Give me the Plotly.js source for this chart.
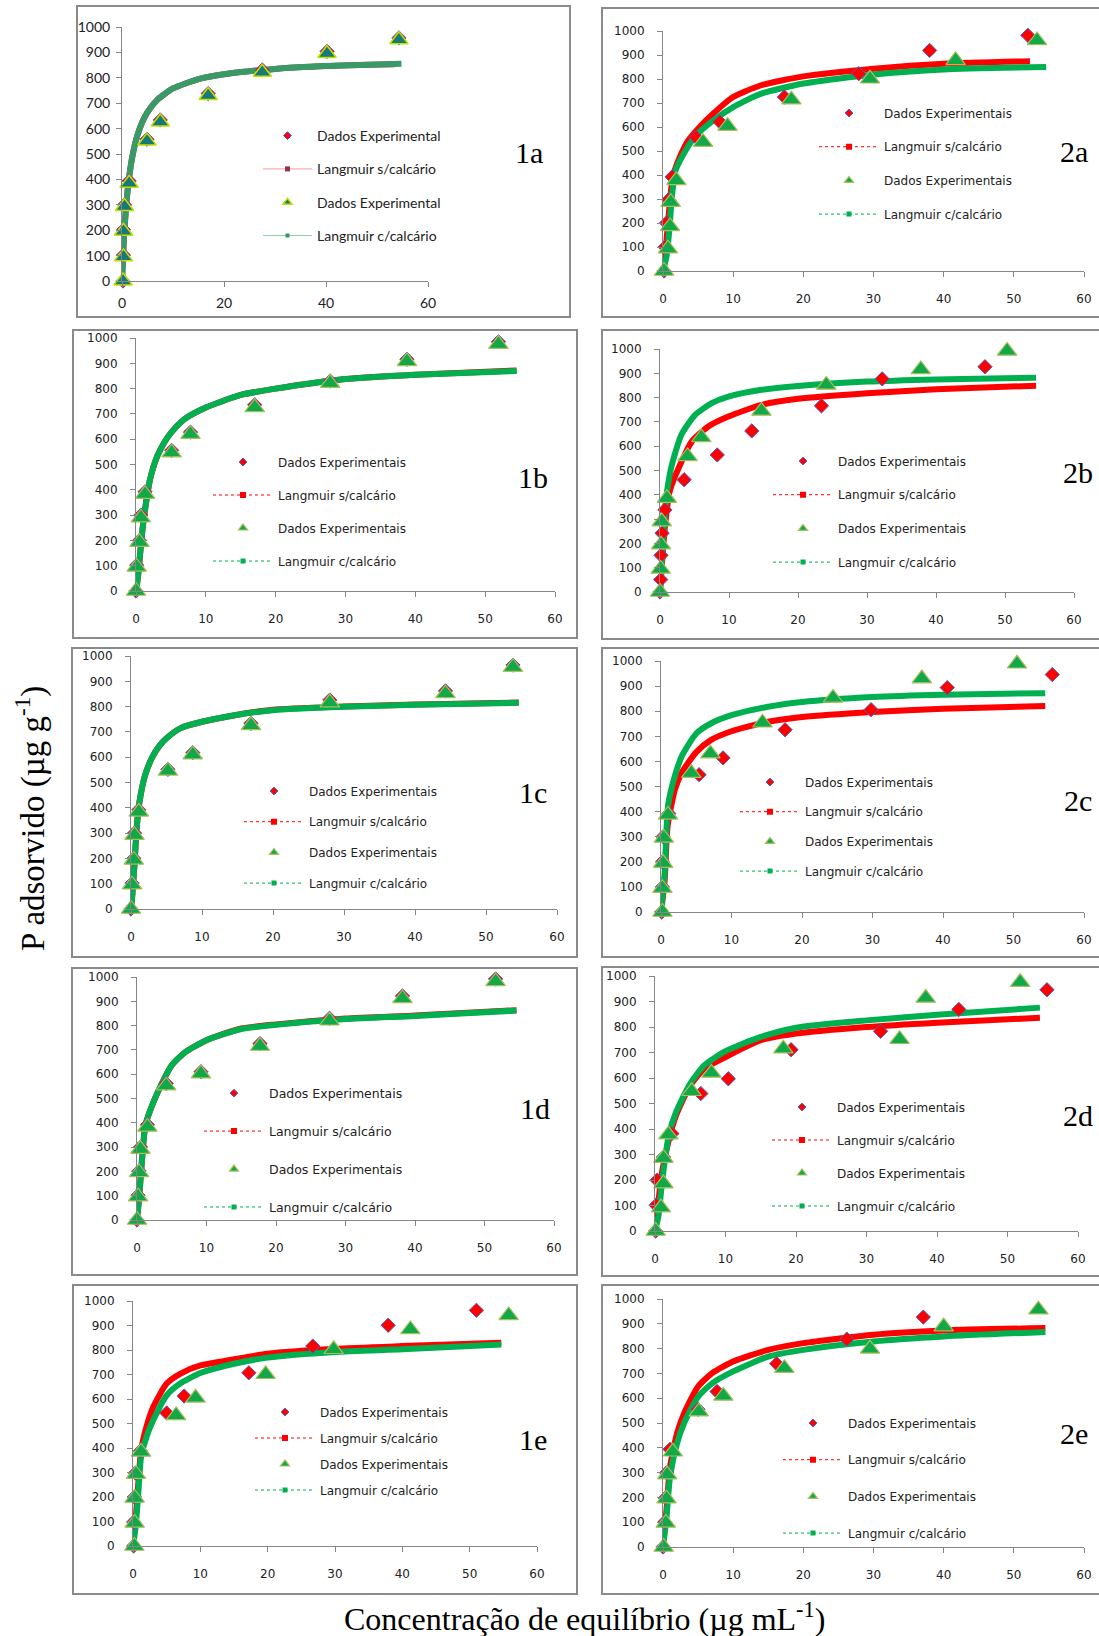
<!DOCTYPE html>
<html>
<head>
<meta charset="utf-8">
<script src="https://cdn.plot.ly/plotly-3.0.1.min.js"></script>
<style>
html,body{margin:0;padding:0;background:#fff;}
#chart{width:1099px;height:1636px;}
</style>
</head>
<body>
<div id="chart"></div>
<script>
// ---------------- DATA ----------------
const panelNames = ['1a','2a','1b','2b','1c','2c','1d','2d','1e','2e'];
const xTicksA = [0,20,40,60];
const xTicks = [0,10,20,30,40,50,60];
const yTicks = [0,100,200,300,400,500,600,700,800,900,1000];
const legendLabelsA = ['Dados Experimental','Langmuir s/calcário','Dados Experimental','Langmuir c/calcário'];
const legendLabels = ['Dados Experimentais','Langmuir s/calcário','Dados Experimentais','Langmuir c/calcário'];
const xTitle = 'Concentração de equilíbrio (µg mL<sup>-1</sup>)';
const yTitle = 'P adsorvido (µg g<sup>-1</sup>)';

// 1a
const d1a_x = [0.2,0.3,0.3,0.5,1.4,4.9,7.5,16.9,27.5,40.2,54.3];
const d1a_y = [0,102,202,300,394,558,634,738,831,904,957];
const t1a_x = [0.2,0.3,0.3,0.5,1.4,4.9,7.5,16.9,27.5,40.2,54.3];
const t1a_y = [0,95,196,293,385,551,626,730,822,896,950];
const s1a_x = [0,0.25,0.5,1,1.5,2,3,4,5,7,10,15,20,30,40,53.5];
const s1a_y = [0,118,208,337,424,487,572,627,665,715,758,795,814,835,846,853];
const c1a_x = [0,0.25,0.5,1,1.5,2,3,4,5,7,10,15,20,30,40,54.8];
const c1a_y = [0,118,208,337,424,487,572,627,665,715,758,795,814,835,846,855];
// 2a
const d2a_x = [0.15,0.3,0.5,0.8,1.3,4.75,8.1,17.3,27.9,38.0,52.0];
const d2a_y = [0,100,200,297,392,556,621,725,822,919,982];
const t2a_x = [0.15,0.7,1.0,1.1,1.9,5.7,9.2,18.3,29.5,41.7,53.3];
const t2a_y = [0,93,186,287,378,537,604,714,801,878,961];
const s2a_x = [0,0.5,1.0,1.4,2.4,3.6,5,6.9,10,14,20,30,40,52.3];
const s2a_y = [0,128,294,392,475,544,593,649,725,774,811,843,864,874];
const c2a_x = [0,0.5,0.9,1.3,1.8,2.6,4.5,6.9,10,14,20,30,40,54.6];
const c2a_y = [0,60,170,320,420,470,558,621,683,739,781,819,840,850];
// 1b
const d1b_x = [0,0.1,0.5,0.7,1.3,5.1,7.8,17.0,27.8,38.8,51.9];
const d1b_y = [0,102,200,300,392,556,628,736,830,916,985];
const t1b_x = [0,0.1,0.5,0.7,1.3,5.1,7.8,17.0,27.8,38.8,51.9];
const t1b_y = [0,95,193,290,383,547,620,726,822,908,976];
const s1b_x = [0,0.3,0.6,1.0,1.5,2,3,4,5,7,10,15,20,30,40,54.5];
const s1b_y = [0,60,150,260,360,440,530,585,625,680,725,775,800,838,855,872];
const c1b_x = [0,0.3,0.6,1.0,1.5,2,3,4,5,7,10,15,20,30,40,54.5];
const c1b_y = [0,60,150,260,360,440,530,585,625,680,725,775,800,838,855,870];
// 2b
const d2b_x = [0,0.1,0.15,0.3,0.7,3.5,8.3,13.3,23.4,32.2,47.1];
const d2b_y = [0,51,151,242,338,462,564,663,766,877,927];
const t2b_x = [0,0.1,0.15,0.25,1.0,4.0,6.0,14.7,24.1,37.8,50.3];
const t2b_y = [0,95,195,290,386,558,636,745,852,916,992];
const s2b_x = [0,0.3,0.7,1.4,2.7,4.6,7,9.9,14.7,20,30,40,54.5];
const s2b_y = [0,120,263,414,510,619,681,722,770,795,818,834,849];
const c2b_x = [0,0.3,0.7,1.0,1.7,3.1,5.1,7.5,9.9,14.7,20,30,40,54.5];
const c2b_y = [0,150,330,411,521,647,729,777,804,832,848,866,875,882];
// 1c
const d1c_x = [0,0.15,0.4,0.5,1.1,5.2,8.7,16.9,28.0,44.3,53.8];
const d1c_y = [0,102,200,300,392,552,618,734,826,862,964];
const t1c_x = [0,0.15,0.4,0.5,1.1,5.2,8.7,16.9,28.0,44.3,53.8];
const t1c_y = [0,96,194,292,384,546,610,726,816,852,956];
const s1c_x = [0,0.2,0.5,0.8,1.2,2,3,4,5,7,10,15,20,30,40,54.6];
const s1c_y = [0,60,180,320,424,530,600,645,675,715,740,768,788,800,808,816];
const c1c_x = [0,0.2,0.5,0.8,1.2,2,3,4,5,7,10,15,20,30,40,54.6];
const c1c_y = [0,60,180,320,424,530,600,645,675,715,740,768,786,799,807,815];
// 2c
const d2c_x = [0.1,0.2,0.2,0.3,1.1,5.4,8.8,17.6,29.8,40.6,55.5];
const d2c_y = [0,100,200,300,392,547,614,726,806,894,946];
const t2c_x = [0.2,0.2,0.3,0.4,1.0,4.3,7.0,14.4,24.4,37.0,50.5];
const t2c_y = [0,95,195,295,387,553,631,754,853,930,989];
const s2c_x = [0,0.5,0.95,2,3,5,7,10,15,20,30,40,54.5];
const s2c_y = [0,120,345,491,558,637,684,720,757,777,797,810,821];
const c2c_x = [0,0.5,1.0,2,3,5,7,10,15,20,30,40,54.5];
const c2c_y = [0,150,425,545,624,711,750,784,817,837,857,866,872];
// 1d
const d1d_x = [0,0.15,0.3,0.5,1.5,4.2,9.2,17.7,27.7,38.2,51.6];
const d1d_y = [0,102,202,300,392,562,610,726,830,922,992];
const t1d_x = [0,0.15,0.3,0.5,1.5,4.2,9.2,17.7,27.7,38.2,51.6];
const t1d_y = [0,96,196,292,383,553,602,716,820,912,982];
const s1d_x = [0,0.3,0.7,1.2,2,3,5,7,10,15,20,30,40,54.6];
const s1d_y = [0,90,240,390,459,527,637,692,740,788,805,829,842,863];
const c1d_x = [0,0.3,0.7,1.2,2,3,5,7,10,15,20,30,40,54.6];
const c1d_y = [0,90,240,390,459,527,637,692,740,786,803,827,840,862];
// 2d
const d2d_x = [0.1,0.15,0.3,1.2,2.4,6.5,10.4,19.3,32.0,43.1,55.6];
const d2d_y = [0,101,199,290,382,539,597,711,783,869,946];
const t2d_x = [0.1,0.85,1.2,1.2,1.9,5.2,8.0,18.2,34.7,38.4,51.8];
const t2d_y = [0,92,186,286,378,548,620,715,752,914,976];
const s2d_x = [0,0.5,1,2,3,5,7,10,15,20,30,40,54.6];
const s2d_y = [0,120,231,362,454,571,637,682,748,774,800,817,836];
const c2d_x = [0,0.5,1,2,3,5,7,10,15,20,30,40,54.6];
const c2d_y = [0,60,192,382,467,578,650,705,761,797,826,848,876];
// 1e
const d1e_x = [0.1,0.1,0.2,0.35,1.1,5.0,7.6,17.2,26.7,37.9,51.0];
const d1e_y = [0,98,200,298,388,543,612,707,816,901,962];
const t1e_x = [0.2,0.25,0.25,0.45,1.2,6.4,9.3,19.7,29.8,41.2,55.8];
const t1e_y = [0,94,196,293,384,533,605,701,803,884,941];
const s1e_x = [0,0.4,0.8,1.2,2,3,5,7,10,15,20,30,40,54.7];
const s1e_y = [0,110,260,390,486,567,663,703,737,762,785,805,816,830];
const c1e_x = [0,0.4,0.8,1.2,2,3,5,7,10,15,20,30,40,54.7];
const c1e_y = [0,80,220,363,445,513,615,663,706,744,769,792,803,822];
// 2e
const d2e_x = [0,0.25,0.35,0.5,1.0,5.0,7.7,16.2,26.2,37.1];
const d2e_y = [0,101,198,299,394,555,627,739,838,927];
const t2e_x = [0.1,0.4,0.5,0.6,1.4,5.1,8.6,17.3,29.5,40.0,53.5];
const t2e_y = [0,97,195,292,384,546,609,721,799,889,957];
const s2e_x = [0,0.5,1,2,3,5,7,10,15,20,30,40,54.5];
const s2e_y = [0,150,323,458,539,647,701,748,795,822,856,873,883];
const c2e_x = [0,0.5,1,2,3,5,7,10,15,20,30,40,54.5];
const c2e_y = [0,120,283,418,499,606,660,708,768,795,829,849,867];

const panelData = {
  '1a':[d1a_x,d1a_y,t1a_x,t1a_y,s1a_x,s1a_y,c1a_x,c1a_y],
  '2a':[d2a_x,d2a_y,t2a_x,t2a_y,s2a_x,s2a_y,c2a_x,c2a_y],
  '1b':[d1b_x,d1b_y,t1b_x,t1b_y,s1b_x,s1b_y,c1b_x,c1b_y],
  '2b':[d2b_x,d2b_y,t2b_x,t2b_y,s2b_x,s2b_y,c2b_x,c2b_y],
  '1c':[d1c_x,d1c_y,t1c_x,t1c_y,s1c_x,s1c_y,c1c_x,c1c_y],
  '2c':[d2c_x,d2c_y,t2c_x,t2c_y,s2c_x,s2c_y,c2c_x,c2c_y],
  '1d':[d1d_x,d1d_y,t1d_x,t1d_y,s1d_x,s1d_y,c1d_x,c1d_y],
  '2d':[d2d_x,d2d_y,t2d_x,t2d_y,s2d_x,s2d_y,c2d_x,c2d_y],
  '1e':[d1e_x,d1e_y,t1e_x,t1e_y,s1e_x,s1e_y,c1e_x,c1e_y],
  '2e':[d2e_x,d2e_y,t2e_x,t2e_y,s2e_x,s2e_y,c2e_x,c2e_y]
};

// ---------------- LAYOUT (pixel geometry) ----------------
const W = 1099, H = 1636;
// plot: [x at 0, x at 60, y at 1000, y at 0]; box: [l,t,r,b]; lab: label centre; leg: [line start x, first row y, row spacing]
const geom = {
  '1a':{plot:[122,428,27,281], box:[77,6,570,317], lab:[529,153], leg:[262,136,33.3], fs:14},
  '2a':{plot:[663,1084,31,271], box:[602,8,1110,317], lab:[1074,152], leg:[818,113,33.7], fs:12},
  '1b':{plot:[136,555,338,591], box:[73,330,577,638], lab:[533,477], leg:[212,462,33], fs:12},
  '2b':{plot:[660,1074,349,592], box:[602,330,1110,639], lab:[1078,472], leg:[772,461,33.7], fs:12},
  '1c':{plot:[131,557,656,909], box:[72,648,577,957], lab:[533,792], leg:[243,791,30.7], fs:12},
  '2c':{plot:[661,1084,661,912], box:[602,648,1110,957], lab:[1078,800], leg:[739,782,29.7], fs:12},
  '1d':{plot:[137,554,977,1220], box:[72,968,577,1275], lab:[535,1108], leg:[203,1093,37.7], fs:12.5},
  '2d':{plot:[655,1078,976,1231], box:[602,967,1110,1276], lab:[1078,1115], leg:[771,1107,33], fs:12},
  '1e':{plot:[133,537,1301,1546], box:[73,1285,577,1594], lab:[533,1439], leg:[254,1412,26], fs:12},
  '2e':{plot:[663,1084,1299,1547], box:[602,1285,1110,1594], lab:[1074,1433], leg:[782,1423,36.7], fs:12}
};
const px = v => v / W;
const py = v => 1 - v / H;

const RED = '#ff0000', GREEN = '#00b050';
const traces = [];
const layout = {
  width: W, height: H,
  margin: {l:0, r:0, t:0, b:0},
  paper_bgcolor: '#ffffff', plot_bgcolor: 'rgba(0,0,0,0)',
  showlegend: true,
  shapes: [], annotations: []
};

panelNames.forEach((name, i) => {
  const n = i + 1;
  const g = geom[name];
  const isA = name === '1a';
  const xa = 'x' + (n === 1 ? '' : n), ya = 'y' + (n === 1 ? '' : n);
  const lg = 'legend' + (n === 1 ? '' : n);
  const [dx, dy, tx, ty, sx, sy, cx, cy] = panelData[name];
  const tickFont = isA ? {family:'Lato, sans-serif', size:14, color:'#222'}
                       : {family:'DejaVu Sans, sans-serif', size:12, color:'#222'};
  const axColor = '#868686';
  layout['xaxis' + (n === 1 ? '' : n)] = {
    domain:[px(g.plot[0]), px(g.plot[1])], anchor: ya, range:[0,60],
    tickmode:'array', tickvals: isA ? xTicksA : xTicks,
    showline:true, linecolor:axColor, linewidth:1, ticks:'outside', ticklen:5, tickcolor:axColor,
    showgrid:false, zeroline:false, tickfont:tickFont, ticklabelstandoff: isA ? 4 : 12, fixedrange:true
  };
  layout['yaxis' + (n === 1 ? '' : n)] = {
    domain:[py(g.plot[3]), py(g.plot[2])], anchor: xa, range:[0,1000],
    tickmode:'array', tickvals: yTicks,
    showline:true, linecolor:axColor, linewidth:1, ticks:'outside', ticklen:5, tickcolor:axColor,
    showgrid:false, zeroline:false, tickfont:tickFont, ticklabelstandoff: isA ? 3 : 10, fixedrange:true
  };
  // curves
  const redCol = isA ? '#a23a5e' : RED, greenCol = isA ? '#3a9a66' : GREEN;
  traces.push({x:sx, y:sy, xaxis:xa, yaxis:ya, mode:'lines', line:{color:redCol, width:6, shape:'spline', smoothing:0.6}, showlegend:false, cliponaxis:false, hoverinfo:'skip'});
  traces.push({x:cx, y:cy, xaxis:xa, yaxis:ya, mode:'lines', line:{color:greenCol, width:6, shape:'spline', smoothing:0.6}, showlegend:false, cliponaxis:false, hoverinfo:'skip'});
  // experimental points
  const diaMarker = isA ? {symbol:'diamond', size:11, color:'#ff0000', line:{color:'#5a5ac8', width:1}}
                        : {symbol:'diamond', size:11, color:'#ff0000', line:{color:'#5a5ab4', width:1}};
  const triMarker = isA ? {symbol:'triangle-up', size:16, color:'#167a7a', line:{color:'#c4e000', width:1.5}}
                        : {symbol:'triangle-up', size:17, color:'#11a84a', line:{color:'#a8bf5a', width:1.2}};
  traces.push({x:dx, y:dy, xaxis:xa, yaxis:ya, mode:'markers', marker:diaMarker, showlegend:false, cliponaxis:false});
  traces.push({x:tx, y:ty, xaxis:xa, yaxis:ya, mode:'markers', marker:triMarker, showlegend:false, cliponaxis:false});
  // legend-only entries
  const labels = isA ? legendLabelsA : legendLabels;
  const legDia = Object.assign({}, diaMarker, {size:6});
  const legTri = Object.assign({}, triMarker, {size:8});
  const legS = isA ? {line:{color:'#ff9a9a', width:1}, marker:{symbol:'square', size:5, color:'#8e3358'}}
                   : {line:{color:RED, width:1, dash:'dot'}, marker:{symbol:'square', size:6, color:RED}};
  const legC = isA ? {line:{color:'#8fd0ae', width:1}, marker:{symbol:'square', size:4, color:'#2f9a66'}}
                   : {line:{color:GREEN, width:1, dash:'dot'}, marker:{symbol:'square', size:5, color:GREEN}};
  const legItems = [
    {mode:'markers', marker:legDia},
    Object.assign({mode:'lines+markers'}, legS),
    {mode:'markers', marker:legTri},
    Object.assign({mode:'lines+markers'}, legC)
  ];
  legItems.forEach((it, k) => {
    traces.push(Object.assign({x:[null], y:[null], xaxis:xa, yaxis:ya, name:labels[k], legend:lg,
      legendgroup:name + '_' + k, showlegend:true, hoverinfo:'skip'}, it));
  });
  const lineLen = isA ? 49 : 60;
  layout[lg] = {
    x: px(g.leg[0] - 4), y: py(g.leg[1] - (isA ? 16 : 14.5)), xanchor:'left', yanchor:'top',
    bgcolor:'rgba(0,0,0,0)', borderwidth:0,
    font: isA ? {family:'Lato, sans-serif', size:14, color:'#222'} : {family:'DejaVu Sans, sans-serif', size:g.fs, color:'#222'},
    traceorder:'grouped', tracegroupgap: g.leg[2] - (isA ? 21.2 : 19), itemwidth: lineLen, itemclick:false, itemdoubleclick:false
  };
  // box
  layout.shapes.push({type:'rect', xref:'paper', yref:'paper', x0:px(g.box[0]), x1:px(g.box[2]), y0:py(g.box[3]), y1:py(g.box[1]),
    line:{color:'#8a8a8a', width:2}, fillcolor:'rgba(0,0,0,0)', layer:'below'});
  // label
  layout.annotations.push({xref:'paper', yref:'paper', x:px(g.lab[0]), y:py(g.lab[1]), text:name, showarrow:false,
    xanchor:'center', yanchor:'middle', font:{family:'Liberation Serif, Times New Roman, serif', size:30, color:'#000'}});
});

layout.annotations.push({xref:'paper', yref:'paper', x:px(31), y:py(819), text:yTitle, showarrow:false, textangle:-90,
  xanchor:'center', yanchor:'middle', font:{family:'Liberation Serif, Times New Roman, serif', size:33, color:'#000'}});
layout.annotations.push({xref:'paper', yref:'paper', x:px(584), y:py(1617), text:xTitle, showarrow:false,
  xanchor:'center', yanchor:'middle', font:{family:'Liberation Serif, Times New Roman, serif', size:32, color:'#000'}});

Plotly.newPlot('chart', traces, layout, {staticPlot:true, displayModeBar:false});
</script>
</body>
</html>
